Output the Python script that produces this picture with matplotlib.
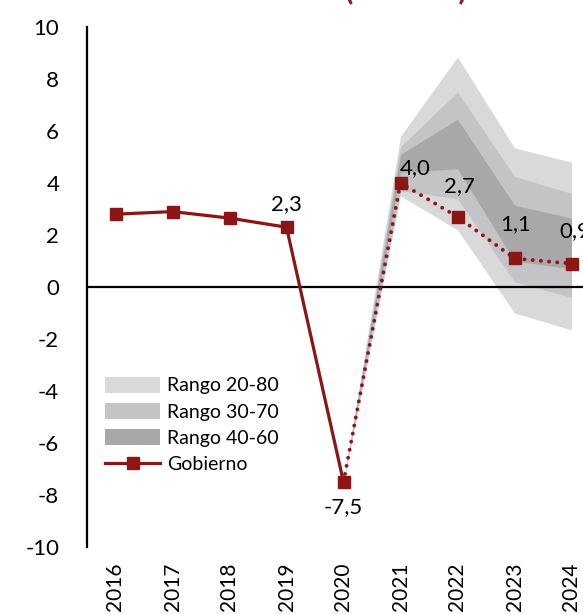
import matplotlib
matplotlib.use('Agg')
import matplotlib.pyplot as plt
import matplotlib.patches as mpatches
from matplotlib.lines import Line2D

plt.rcParams['font.family'] = ['Lato', 'DejaVu Sans']
plt.rcParams['axes.unicode_minus'] = False

years = ['2016', '2017', '2018', '2019', '2020', '2021', '2022', '2023', '2024']
gobierno = [2.8, 2.9, 2.65, 2.3, -7.5, 4.0, 2.7, 1.1, 0.9]

# fan bands start at the 2020 point and open up for the forecast years
fan_years = ['2020', '2021', '2022', '2023', '2024']
rango_20_80_low = [-7.5, 3.5, 2.2, -1.0, -1.65]
rango_20_80_high = [-7.5, 5.8, 8.85, 5.35, 4.8]
rango_30_70_low = [-7.5, 3.7, 3.4, 0.2, -0.4]
rango_30_70_high = [-7.5, 5.4, 7.5, 4.25, 3.6]
rango_40_60_low = [-7.5, 4.4, 4.55, 1.0, 0.7]
rango_40_60_high = [-7.5, 5.1, 6.45, 3.15, 2.65]

labels = {'2019': '2,3', '2020': '-7,5', '2021': '4,0', '2022': '2,7', '2023': '1,1', '2024': '0,9'}

red = '#8c1515'
c_light = '#d9d9db'
c_mid = '#c4c4c6'
c_dark = '#a8a8a8'

fig = plt.figure(figsize=(5.83, 6.14), dpi=100)
ax = fig.add_axes([87 / 583, 1 - 547 / 614, (600 - 87) / 583, (547 - 27) / 614])

xi = {y: i for i, y in enumerate(years)}
fx = [xi[y] for y in fan_years]

ax.fill_between(fx, rango_20_80_low, rango_20_80_high, color=c_light, lw=0)
ax.fill_between(fx, rango_30_70_low, rango_30_70_high, color=c_mid, lw=0)
ax.fill_between(fx, rango_40_60_low, rango_40_60_high, color=c_dark, lw=0)

ax.axhline(0, color='black', lw=1.6, zorder=2)

k = xi['2020']
xs = list(range(len(years)))
ax.plot(xs[:k + 1], gobierno[:k + 1], color=red, lw=2.3, zorder=3)
ax.plot(xs[k:], gobierno[k:], color=red, lw=2.8, linestyle=(0, (0.01, 2.1)),
        dash_capstyle='round', zorder=3)
ax.plot(xs, gobierno, linestyle='none', marker='s', ms=8.3, color=red, zorder=4)

offsets = {'2019': (0, 23), '2020': (0, -25), '2021': (15, 15),
           '2022': (2, 31), '2023': (1, 34), '2024': (3, 33)}
for y, txt in labels.items():
    i = xi[y]
    ax.annotate(txt, (i, gobierno[i]), xytext=offsets[y], textcoords='offset pixels',
                ha='center', va='center', fontsize=16, color='black', zorder=5)

ax.set_xlim(-0.5, len(years) - 0.5)
ax.set_ylim(-10, 10)
ax.set_yticks(range(-10, 11, 2))
ax.set_xticks(xs)
ax.set_xticklabels(years, rotation=90, fontsize=15)
ax.tick_params(axis='y', length=0, pad=20, labelsize=16)
ax.tick_params(axis='x', length=0, pad=11)
for s in ['top', 'right', 'bottom']:
    ax.spines[s].set_visible(False)
ax.spines['left'].set_linewidth(1.6)

handles = [mpatches.Patch(color=c_light, lw=0, label='Rango 20-80'),
           mpatches.Patch(color=c_mid, lw=0, label='Rango 30-70'),
           mpatches.Patch(color=c_dark, lw=0, label='Rango 40-60'),
           Line2D([], [], color=red, lw=2.3, marker='s', ms=8.3, label='Gobierno')]
ax.legend(handles=handles, loc='upper left', bbox_to_anchor=(105 / 583, 1 - 377 / 614),
          bbox_transform=fig.transFigure, frameon=False, fontsize=14,
          handlelength=2.85, handleheight=0.85, handletextpad=0.35, labelspacing=0.45,
          borderpad=0, borderaxespad=0)

# heading sits above the visible area, only the bracket tails show
fig.text(406 / 583, 1.0 + 1 / 614, '(% anual)', ha='center', va='baseline',
         fontsize=22, color='#8a1c2e', fontweight='bold')

fig.savefig('out.png', dpi=100)
